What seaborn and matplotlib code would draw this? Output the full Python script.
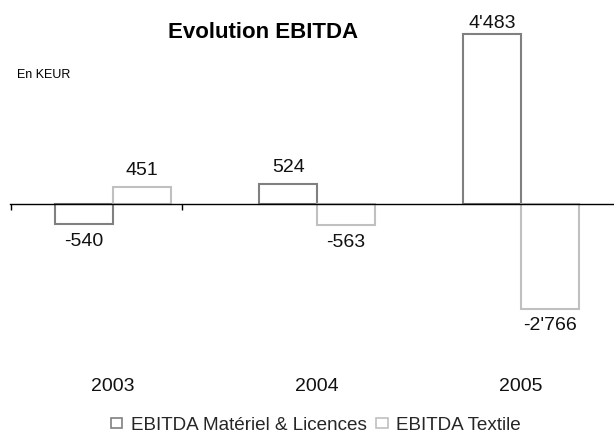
import matplotlib
matplotlib.use("Agg")
import matplotlib.pyplot as plt
import seaborn as sns
import pandas as pd
from matplotlib.patches import Patch

years = ["2003", "2004", "2005"]
materiel = [-540, 524, 4483]
textile = [451, -563, -2766]
series_names = ["EBITDA Matériel & Licences", "EBITDA Textile"]
edge_colors = ["#808080", "#c0c0c0"]

df = pd.DataFrame({
    "Année": years * 2,
    "Série": [series_names[0]] * 3 + [series_names[1]] * 3,
    "Valeur": materiel + textile,
})

sns.set_theme(style="white")
plt.rcParams["font.family"] = ["Liberation Sans", "DejaVu Sans"]

fig = plt.figure(figsize=(6.14, 4.36), dpi=100)
ax = fig.add_axes([10 / 614, 1 - 320 / 436, 604 / 614, 290 / 436])

sns.barplot(data=df, x="Année", y="Valeur", hue="Série", order=years,
            hue_order=series_names, palette=edge_colors, width=0.566,
            ax=ax, legend=False, errorbar=None)

fmt = lambda v: f"{v:,.0f}".replace(",", "'")
for container, col in zip(ax.containers, edge_colors):
    for p in container:
        p.set_facecolor("white")
        p.set_edgecolor(col)
        p.set_linewidth(1.5)
    anns = ax.bar_label(container, fmt=fmt, padding=6, fontsize=14,
                        color="#111111")
    for a in anns:
        if a.get_text() == "4'483":
            a.xyann = (0, 1.5)

ax.set_xlim(-0.505, 2.456)
ax.set_ylim(-3057, 4586)

for s in ["top", "right", "left"]:
    ax.spines[s].set_visible(False)
ax.spines["bottom"].set_position(("data", 0))
ax.spines["bottom"].set_color("black")
ax.spines["bottom"].set_linewidth(1.0)
ax.set_yticks([])
ax.set_xlabel("")
ax.set_ylabel("")

ax.set_xticks([0, 1, 2])
ax.set_xticklabels(years)
ax.tick_params(axis="x", which="major", length=0, pad=125, labelsize=14,
               labelcolor="#111111")
ax.set_xticks([-0.5, 0.34, 1.195], minor=True)
ax.tick_params(axis="x", which="minor", bottom=True, length=4, width=1,
               direction="out", color="black")

fig.text(263.5 / 614, 1 - 38 / 436, "Evolution EBITDA", ha="center",
         va="baseline", fontsize=16, fontweight="bold", color="black")
fig.text(17 / 614, 1 - 78 / 436, "En KEUR", ha="left", va="baseline",
         fontsize=9, color="black")

handles = [Patch(facecolor="white", edgecolor=c, linewidth=1.2) for c in edge_colors]
fig.legend(handles, series_names, loc="center",
           bbox_to_anchor=(316 / 614, 1 - 425 / 436), ncol=2, frameon=False,
           fontsize=13.6, handlelength=0.62, handleheight=0.45,
           handletextpad=0.45, columnspacing=0.5, borderpad=0)

fig.savefig("out.png", dpi=100)
